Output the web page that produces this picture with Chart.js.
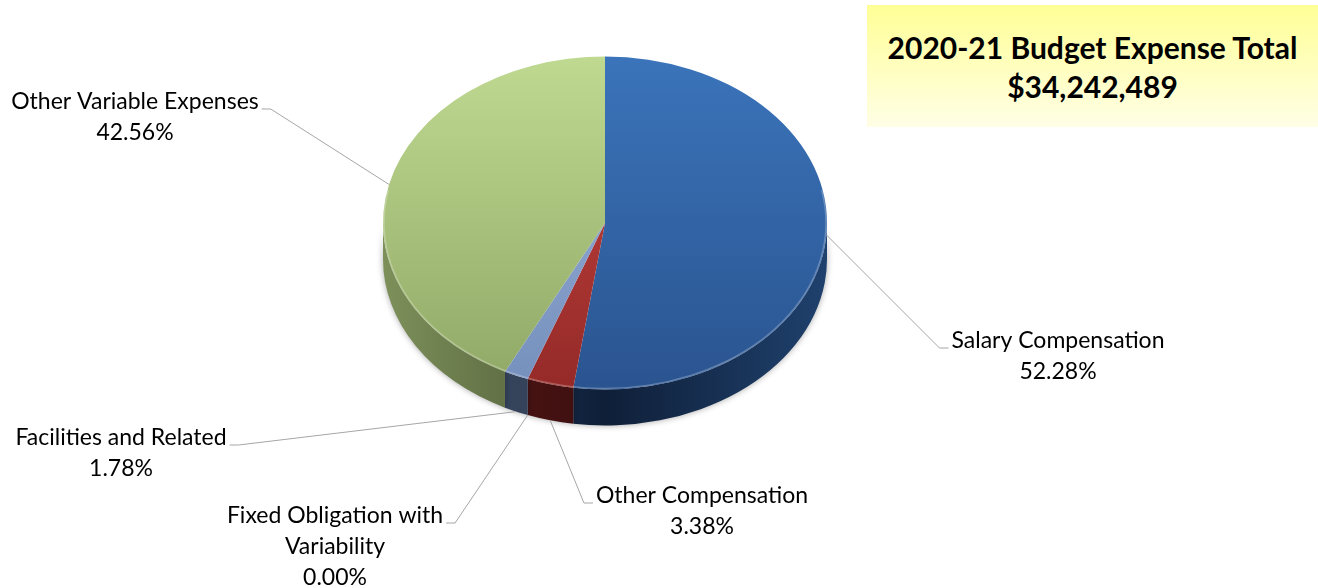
<!DOCTYPE html>
<html>
<head>
<meta charset="utf-8">
<title>2020-21 Budget Expense Total</title>
<script src="https://cdn.jsdelivr.net/npm/chart.js@4.4.1/dist/chart.umd.min.js"></script>
<style>
  html, body { margin: 0; padding: 0; background: #fff; }
  #wrap { position: relative; width: 1318px; height: 588px; }
  #totalBox {
    position: absolute; left: 867px; top: 5px; width: 451px; height: 122px;
    background: linear-gradient(#ffff96, #fffee6);
    font-family: Lato, "Noto Sans", sans-serif; font-weight: bold; font-size: 30px;
    line-height: 39px; text-align: center; color: #000;
    box-sizing: border-box; padding-top: 23px;
  }
</style>
</head>
<body>
<div id="wrap">
  <canvas id="budgetPie" width="1318" height="588"></canvas>
  <div id="totalBox"><div id="totalTitle"></div><div id="totalValue"></div></div>
</div>
<script>
// 2020-21 budget expenses by category (percent of total)
const budgetYear = '2020-21';
const budgetTotal = 34242489;
const categories = [
  'Salary Compensation',
  'Other Compensation',
  'Fixed Obligation with Variability',
  'Facilities and Related',
  'Other Variable Expenses'
];
const shares = [52.28, 3.38, 0.00, 1.78, 42.56];

// top face gradient (top, bottom) and side wall gradient (edge, middle)
const faceColors = [
  ['#3b74ba', '#2a5490'],
  ['#c94541', '#942a28'],
  ['#b0c4e0', '#8aa2c8'],
  ['#9ab3da', '#7690bd'],
  ['#bfd991', '#90a866']
];
const sideColors = [
  ['#1f416d', '#0f1f38'],
  ['#5a1717', '#3c0f0f'],
  ['#3e4e68', '#2e3b52'],
  ['#3e4e68', '#2e3b52'],
  ['#7d905a', '#4b5735']
];

// where each data label sits (center x, first line y) and which side its leader tick is on
const labelSpots = [
  { x: 1058, y: 341, tick: 'left', wrap: 400 },
  { x: 702, y: 496, tick: 'left', wrap: 400 },
  { x: 335, y: 516, tick: 'right', wrap: 240 },
  { x: 121, y: 438, tick: 'right', wrap: 400 },
  { x: 135, y: 102, tick: 'right', wrap: 400 }
];

const TILT = 0.75;   // vertical squash of the pie top
const DEPTH = 36;    // thickness of the pie
const LABEL_FONT = '23px Lato, "Noto Sans", sans-serif';
const LINE_GAP = 31;

document.getElementById('totalTitle').textContent = `${budgetYear} Budget Expense Total`;
document.getElementById('totalValue').textContent = '$' + budgetTotal.toLocaleString('en-US');

function faceFill(c) {
  const area = c.chart.chartArea;
  const pair = faceColors[c.dataIndex];
  if (!area) return pair[0];
  const g = c.chart.ctx.createLinearGradient(0, area.top, 0, area.bottom);
  g.addColorStop(0, pair[0]);
  g.addColorStop(1, pair[1]);
  return g;
}

function wrapText(ctx, text, maxWidth) {
  const words = text.split(' ');
  const lines = [];
  let line = '';
  words.forEach(w => {
    const test = line ? line + ' ' + w : w;
    if (line && ctx.measureText(test).width > maxWidth) {
      lines.push(line);
      line = w;
    } else {
      line = test;
    }
  });
  if (line) lines.push(line);
  return lines;
}

// Draws the pie as a tilted disc with a visible front wall
const tiltedPie = {
  id: 'tiltedPie',
  beforeDatasetsDraw(chart) {
    const ctx = chart.ctx;
    const arcs = chart.getDatasetMeta(0).data;
    const cx = arcs[0].x, cy = arcs[0].y;
    const rx = arcs[0].outerRadius, ry = rx * TILT;

    ctx.save();
    ctx.save();
    ctx.shadowColor = 'rgba(0,0,0,0.35)';
    ctx.shadowBlur = 6;
    arcs.forEach((arc, i) => {
      const a = Math.max(arc.startAngle, 0);
      const b = Math.min(arc.endAngle, Math.PI);
      if (b <= a) return;
      const g = ctx.createLinearGradient(cx - rx, 0, cx + rx, 0);
      g.addColorStop(0, sideColors[i][0]);
      g.addColorStop(0.5, sideColors[i][1]);
      g.addColorStop(1, sideColors[i][0]);
      ctx.fillStyle = g;
      ctx.beginPath();
      ctx.ellipse(cx, cy, rx, ry, 0, a, b, false);
      ctx.ellipse(cx, cy + DEPTH, rx, ry, 0, b, a, true);
      ctx.closePath();
      ctx.fill();
    });
    ctx.restore();

    // squash the top face into an ellipse
    ctx.translate(0, cy);
    ctx.scale(1, TILT);
    ctx.translate(0, -cy);
  },
  afterDatasetsDraw(chart) {
    const ctx = chart.ctx;
    ctx.restore();

    const arcs = chart.getDatasetMeta(0).data;
    const cx = arcs[0].x, cy = arcs[0].y;
    const rx = arcs[0].outerRadius, ry = rx * TILT;

    // soft light rim round the front of the top face
    ctx.save();
    ctx.strokeStyle = 'rgba(255,255,255,0.25)';
    ctx.lineWidth = 1.5;
    ctx.beginPath();
    ctx.ellipse(cx, cy, rx - 1, ry - 1, 0, -0.2, Math.PI + 0.2);
    ctx.stroke();
    ctx.restore();

    // data labels with leader lines
    ctx.save();
    ctx.font = LABEL_FONT;
    ctx.textAlign = 'center';
    ctx.textBaseline = 'middle';
    ctx.fillStyle = '#000';
    arcs.forEach((arc, i) => {
      const spot = labelSpots[i];
      const lines = wrapText(ctx, categories[i], spot.wrap);
      lines.push(shares[i].toFixed(2) + '%');
      lines.forEach((t, k) => ctx.fillText(t, spot.x, spot.y + k * LINE_GAP));

      const mid = (arc.startAngle + arc.endAngle) / 2;
      const ax = cx + rx * Math.cos(mid);
      let ay = cy + ry * Math.sin(mid);
      if (Math.sin(mid) > 0.5) ay += DEPTH;

      const w = ctx.measureText(lines[0]).width;
      const ty = spot.y + 7;
      const tx = spot.tick === 'left' ? spot.x - w / 2 - 3 : spot.x + w / 2 + 3;
      const kx = spot.tick === 'left' ? tx - 9 : tx + 9;

      ctx.strokeStyle = '#a6a6a6';
      ctx.lineWidth = 1;
      ctx.beginPath();
      ctx.moveTo(tx, ty);
      ctx.lineTo(kx, ty);
      ctx.lineTo(ax, ay);
      ctx.stroke();
    });
    ctx.restore();
  }
};

new Chart(document.getElementById('budgetPie'), {
  type: 'pie',
  data: {
    labels: categories,
    datasets: [{
      data: shares,
      backgroundColor: faceFill,
      borderWidth: 0,
      hoverOffset: 0,
      offset: 0
    }]
  },
  options: {
    responsive: false,
    animation: false,
    layout: { padding: { left: 383, right: 491, top: 1, bottom: 143 } },
    plugins: {
      legend: { display: false },
      tooltip: { enabled: false }
    }
  },
  plugins: [tiltedPie]
});
</script>
</body>
</html>
